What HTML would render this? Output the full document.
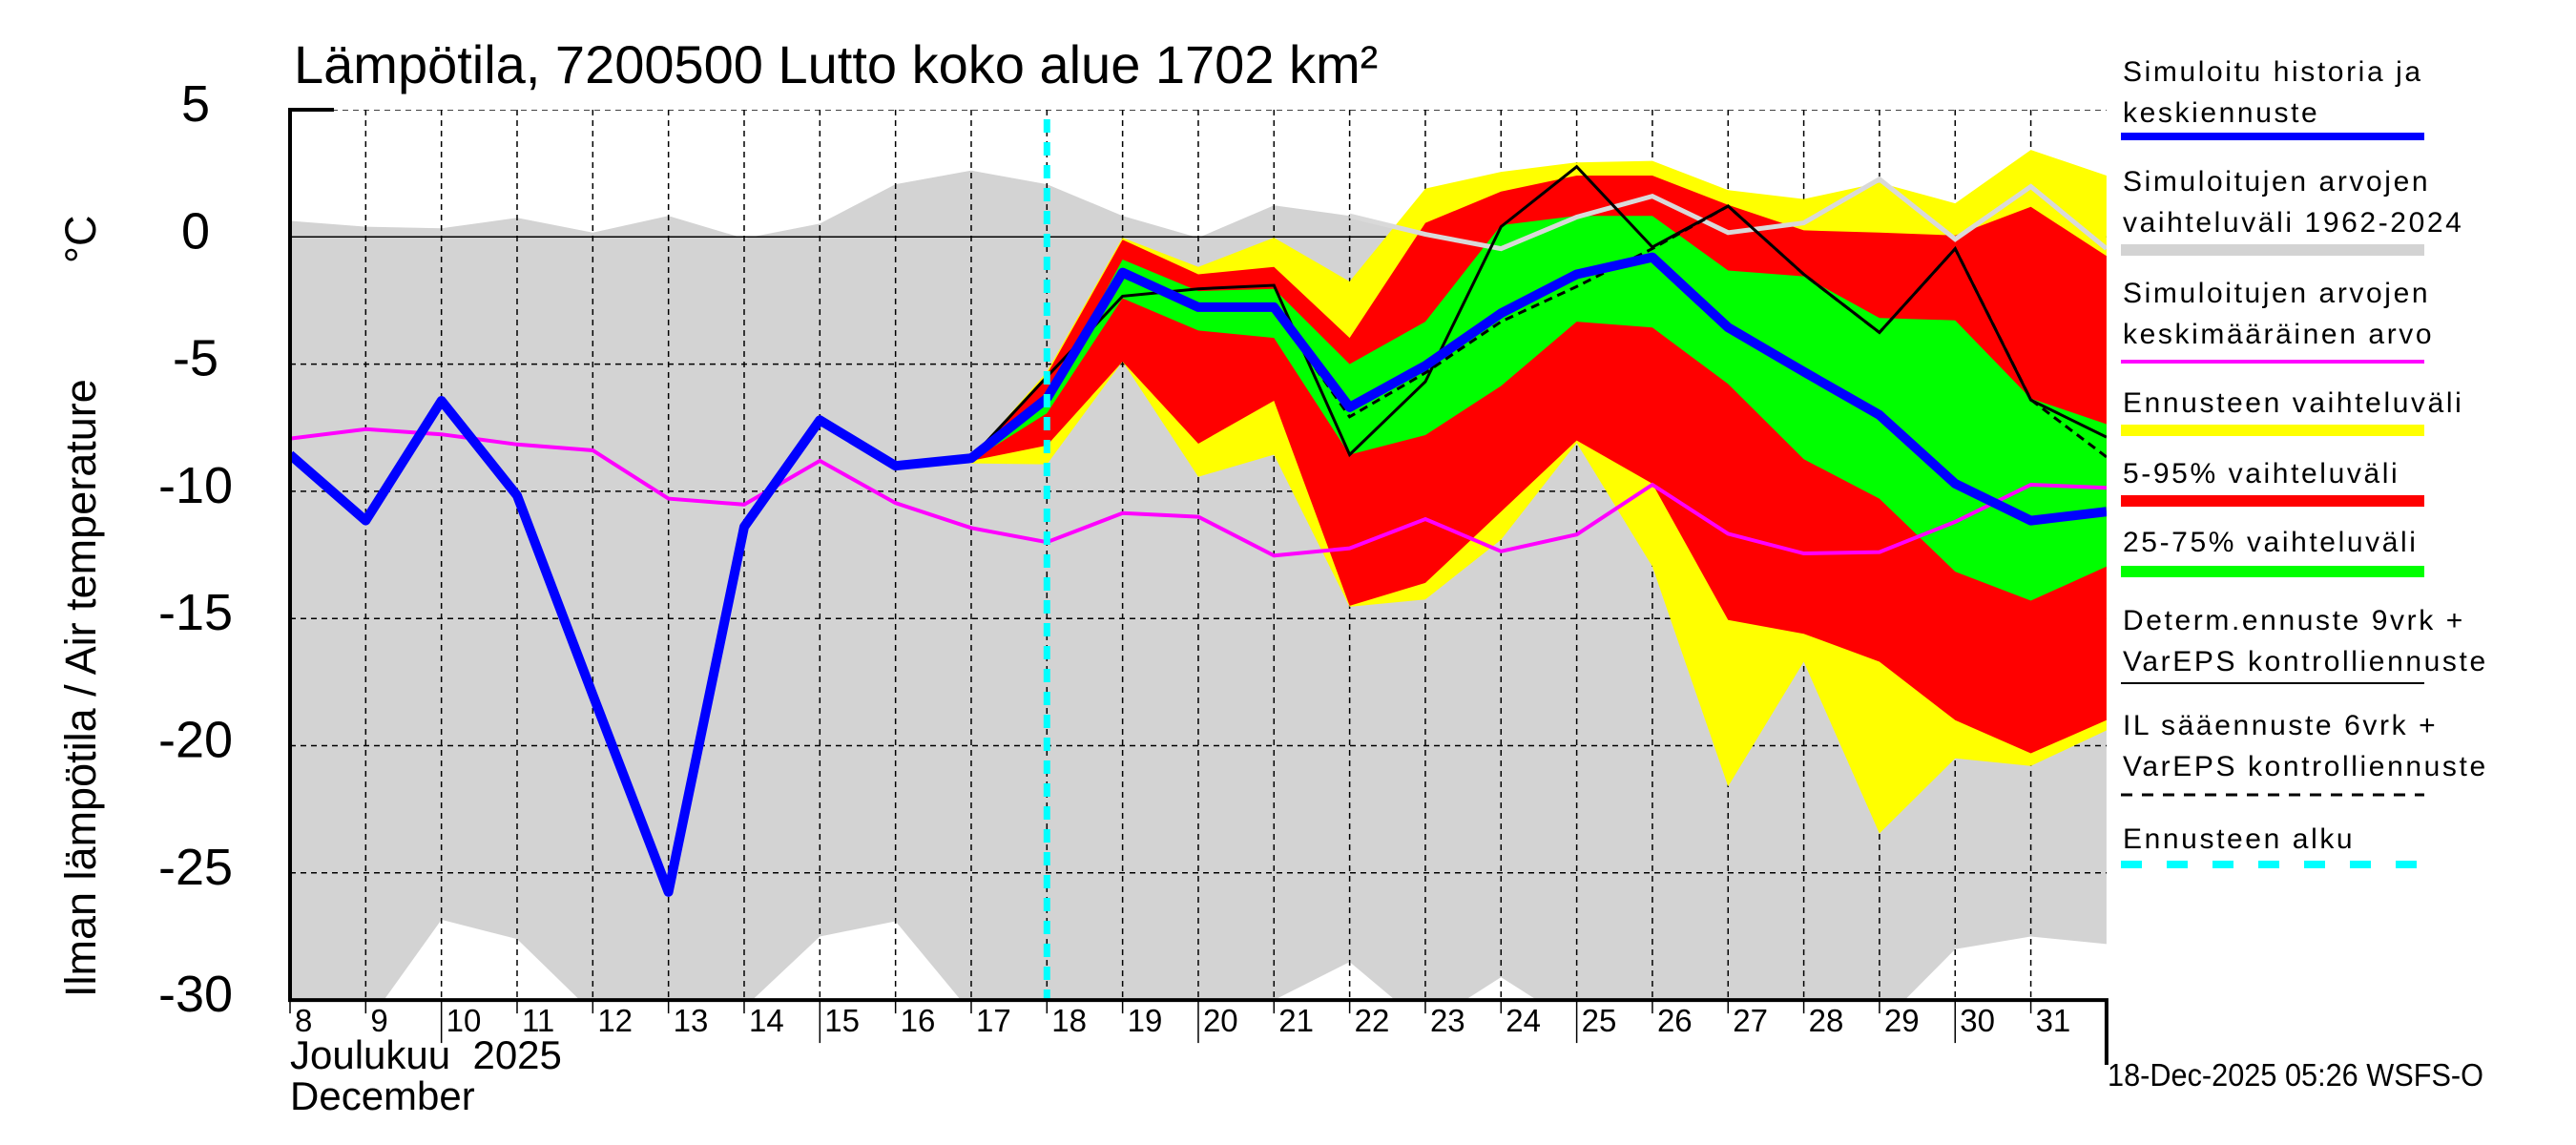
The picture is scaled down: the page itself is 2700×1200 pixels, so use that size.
<!DOCTYPE html>
<html><head><meta charset="utf-8"><style>
html,body{margin:0;padding:0;background:#fff;}
svg{display:block;font-family:"Liberation Sans",Arial,sans-serif;}
</style></head><body>
<svg id="chart" width="2700" height="1200" viewBox="0 0 2700 1200">
<defs><clipPath id="plotclip"><rect x="304" y="115" width="1904" height="933"/></clipPath></defs>
<text x="308" y="87" font-size="56">Lämpötila, 7200500 Lutto koko alue 1702 km²</text>
<g id="plot" clip-path="url(#plotclip)"></g>
<g id="axes"></g>
<text transform="translate(100,1045) rotate(-90)" font-size="45">Ilman lämpötila / Air temperature</text>
<text transform="translate(100,276) rotate(-90)" font-size="45">°C</text>
<text x="304" y="1120" font-size="42" xml:space="preserve">Joulukuu  2025</text>
<text x="304" y="1163" font-size="42">December</text>
<text x="2209" y="1138" font-size="33" textLength="394" lengthAdjust="spacingAndGlyphs">18-Dec-2025 05:26 WSFS-O</text>
<g id="legend"></g>
</svg>
<script>
const histDays = [8,9,10,11,12,13,14,15,16,17,18];
const histValues = [-8.56,-11.15,-6.44,-10.17,-18,-25.75,-11.4,-7.2,-9.0,-8.7,-6.35];
const allDays = [8,9,10,11,12,13,14,15,16,17,18,19,20,21,22,23,24,25,26,27,28,29,30,31,32];
const meanValues = [-7.93,-7.56,-7.76,-8.16,-8.39,-10.29,-10.52,-8.8,-10.46,-11.44,-12.0,-10.86,-11.0,-12.53,-12.24,-11.09,-12.36,-11.7,-9.74,-11.67,-12.44,-12.39,-11.2,-9.74,-9.86];
const rangeMax = [0.63,0.4,0.34,0.75,0.17,0.83,-0.06,0.52,2.07,2.61,2.07,0.83,-0.03,1.24,0.83,0.1,-0.46,0.78,1.6,0.17,0.55,2.27,-0.09,1.98,-0.46];
const rangeMin = [-30,-31,-26.84,-27.6,-30.5,-31,-30.3,-27.5,-26.9,-30.5,-31,-31,-31,-30,-28.5,-31,-29.1,-31,-31,-31,-31,-31,-28,-27.5,-27.8];
const fcDays = [17,18,19,20,21,22,23,24,25,26,27,28,29,30,31,32];
const yellowHi = [-8.7,-5.3,-0.03,-1.18,-0.03,-1.75,1.9,2.56,2.93,2.99,1.84,1.49,2.13,1.32,3.42,2.41];
const yellowLo = [-8.9,-8.94,-4.9,-9.43,-8.56,-14.54,-14.25,-11.9,-8.1,-12.96,-21.6,-16.7,-23.45,-20.5,-20.8,-19.4];
const redHi = [-8.7,-5.4,-0.11,-1.47,-1.18,-3.97,0.55,1.78,2.41,2.41,1.26,0.26,0.17,0.06,1.18,-0.75];
const redLo = [-8.8,-8.2,-4.9,-8.13,-6.44,-14.5,-13.6,-10.8,-8.0,-9.7,-15.06,-15.6,-16.7,-19.0,-20.3,-19.0];
const greenHi = [-8.7,-6.44,-0.89,-2.13,-2.04,-5.0,-3.33,0.46,0.83,0.83,-1.32,-1.55,-3.19,-3.28,-6.35,-7.36];
const greenLo = [-8.8,-6.93,-2.41,-3.68,-3.97,-8.56,-7.79,-5.86,-3.33,-3.56,-5.78,-8.74,-10.29,-13.16,-14.3,-12.96];
const fcMean = [-8.7,-6.35,-1.4,-2.76,-2.76,-6.7,-5.06,-3.0,-1.47,-0.8,-3.56,-5.3,-7.0,-9.7,-11.15,-10.8];
const determ = [-8.7,-5.5,-2.33,-2.04,-1.9,-8.56,-5.69,0.4,2.76,-0.4,1.21,-1.47,-3.76,-0.46,-6.41,-7.87];
const ilForecast = [-8.8,-6.4,-1.55,-2.82,-2.82,-7.07,-5.34,-3.33,-1.95,-0.46,1.21,-1.47,-3.76,-0.46,-6.4,-8.65];
const yTicks = [5,0,-5,-10,-15,-20,-25,-30];
const xTickDays = [8,9,10,11,12,13,14,15,16,17,18,19,20,21,22,23,24,25,26,27,28,29,30,31];
const forecastStart = 18;

const NS = "http://www.w3.org/2000/svg";
const X0 = 304, DX = 79.33, YTOP = 115, PER = 133.3 / 5;
function xs(d){ return X0 + (d - 8) * DX; }
function ys(v){ return YTOP + (5 - v) * PER; }
function mk(tag, attrs, parent){
  const e = document.createElementNS(NS, tag);
  for (const k in attrs) e.setAttribute(k, attrs[k]);
  parent.appendChild(e);
  return e;
}
function pts(days, vals){ return days.map((d,i)=>xs(d).toFixed(1)+","+ys(vals[i]).toFixed(1)).join(" "); }
function band(days, hi, lo){
  const a = days.map((d,i)=>xs(d).toFixed(1)+","+ys(hi[i]).toFixed(1));
  const b = days.map((d,i)=>xs(d).toFixed(1)+","+ys(lo[i]).toFixed(1)).reverse();
  return a.concat(b).join(" ");
}
const plot = document.getElementById("plot");
const axes = document.getElementById("axes");
const legend = document.getElementById("legend");

let e;
e = mk("polygon", {points: band(allDays, rangeMax, rangeMin), fill: "#d3d3d3"}, plot);



xTickDays.forEach(d => {
  const g = mk("line", {x1: xs(d), x2: xs(d), y1: YTOP, y2: ys(-30), stroke: "#000", "stroke-width": 1.5, "stroke-dasharray": "6 5"}, plot);
  
  
});
yTicks.forEach(v => {
  const g = mk("line", {x1: X0, x2: xs(32), y1: ys(v), y2: ys(v), stroke: "#000", "stroke-width": 1.5, "stroke-dasharray": v === 0 ? "none" : "6 5"}, plot);
  
  
});

e = mk("polygon", {points: band(fcDays, yellowHi, yellowLo), fill: "#ffff00"}, plot);


e = mk("polygon", {points: band(fcDays, redHi, redLo), fill: "#ff0000"}, plot);


e = mk("polygon", {points: band(fcDays, greenHi, greenLo), fill: "#00ff00"}, plot);



const maxDaysTail = allDays.filter(d => d >= 22);
const maxValsTail = rangeMax.slice(allDays.indexOf(22));
e = mk("polyline", {points: pts(maxDaysTail, maxValsTail), fill: "none", stroke: "#d9d9d9", "stroke-width": 5}, plot);



e = mk("polyline", {points: pts(allDays, meanValues), fill: "none", stroke: "#ff00ff", "stroke-width": 4}, plot);



e = mk("polyline", {points: pts(fcDays, determ), fill: "none", stroke: "#000", "stroke-width": 3}, plot);


e = mk("polyline", {points: pts(fcDays, ilForecast), fill: "none", stroke: "#000", "stroke-width": 3, "stroke-dasharray": "9 6"}, plot);



e = mk("polyline", {points: pts(histDays, histValues), fill: "none", stroke: "#0000ff", "stroke-width": 10, "stroke-linejoin": "round"}, plot);


e = mk("polyline", {points: pts(fcDays.slice(1), fcMean.slice(1)), fill: "none", stroke: "#0000ff", "stroke-width": 10, "stroke-linejoin": "round"}, plot);



e = mk("line", {x1: xs(forecastStart), x2: xs(forecastStart), y1: YTOP + 10, y2: ys(-30), stroke: "#00ffff", "stroke-width": 7, "stroke-dasharray": "14 10"}, plot);



e = mk("path", {d: `M${X0+46},${YTOP} H${X0} V${ys(-30)} H${xs(32)} V1116`, fill: "none", stroke: "#000", "stroke-width": 4}, axes);


yTicks.forEach(v => {
  const t = mk("text", {x: 205, y: ys(v) + 12, "font-size": 54, "text-anchor": "middle"}, axes);
  t.textContent = String(v);
  
  
});
xTickDays.forEach(d => {
  const long = d % 5 === 0;
  const t = mk("line", {x1: xs(d), x2: xs(d), y1: ys(-30), y2: ys(-30) + (long ? 45 : 14), stroke: "#000", "stroke-width": 1.5}, axes);
  
  
  const l = mk("text", {x: xs(d) + 5, y: 1081, "font-size": 33}, axes);
  l.textContent = String(d);
  
  
});

const legendLabels = [["Simuloitu historia ja","keskiennuste"],["Simuloitujen arvojen","vaihteluväli 1962-2024"],["Simuloitujen arvojen","keskimääräinen arvo"],["Ennusteen vaihteluväli"],["5-95% vaihteluväli"],["25-75% vaihteluväli"],["Determ.ennuste 9vrk +","VarEPS kontrolliennuste"],["IL sääennuste 6vrk  +","VarEPS kontrolliennuste"],["Ennusteen alku"]];
const legendBase = [85,306,421,525,577,624,692,802,889];
const legendLineY = [143,262,379,451,525,599,716,833,906];
const legendFirst = [85,200,317,432,506,578,660,770,889];
const legendStyles = [["#0000ff",8,""],["#d3d3d3",12,""],["#ff00ff",4,""],["#ffff00",12,""],["#ff0000",12,""],["#00ff00",12,""],["#000",2,""],["#000",3,"12 10"],["#00ffff",8,"22 26"]];
legendLabels.forEach((lines, i) => {
  lines.forEach((s, j) => {
    const t = mk("text", {x: 2225, y: legendFirst[i] + j * 43, "font-size": 30, "letter-spacing": 2.6, "xml:space": "preserve"}, legend);
    t.textContent = s;
    
    
  });
  const st = legendStyles[i];
  const ln = mk("line", {x1: 2223, x2: 2541, y1: legendLineY[i], y2: legendLineY[i], stroke: st[0], "stroke-width": st[1]}, legend);
  if (st[2]) ln.setAttribute("stroke-dasharray", st[2]);
  
  
});
</script>
</body></html>
